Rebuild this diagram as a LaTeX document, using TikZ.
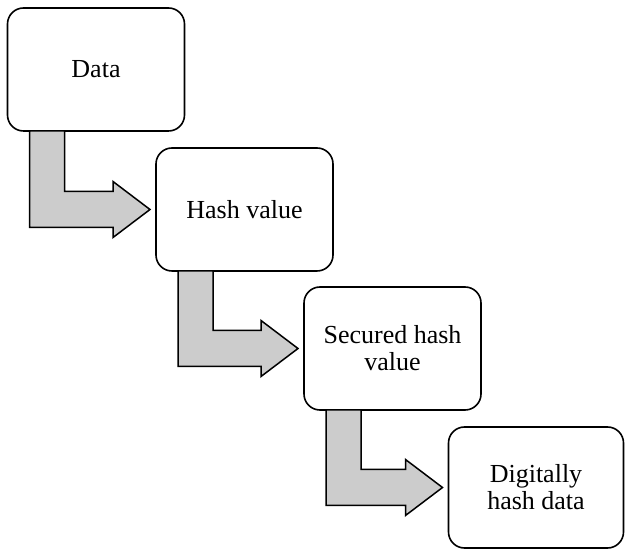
\documentclass[tikz,border=0pt]{standalone}
\usepackage{fontspec}
\setmainfont{Liberation Serif}
\usetikzlibrary{calc, positioning}
\tikzset{
  stepnode/.style   = {draw, line width=1.6pt, rounded corners=16pt, fill=white,
                       minimum width=177pt, minimum height=123pt, align=center,
                       inner sep=2pt, outer sep=0pt,
                       font=\fontsize{26}{27}\selectfont},
  blockarrow/.style = {draw, line width=1.5pt, fill=gray!40, line join=miter},
}

\begin{document}
\begin{tikzpicture}[x=1pt, y=1pt]
\useasboundingbox (0,0) rectangle (626,551);
\newcommand{\bendarrow}[2]{% from node, to node
  \draw[blockarrow] let \p1=(#1.south west), \p2=(#2.west) in
    (\x1+22pt,\y1) -- (\x1+22pt,\y2-18pt) -- (\x2-43pt,\y2-18pt)
    -- (\x2-43pt,\y2-28pt) -- (\x2-6pt,\y2) -- (\x2-43pt,\y2+28pt)
    -- (\x2-43pt,\y2+18pt) -- (\x1+57pt,\y2+18pt) -- (\x1+57pt,\y1) -- cycle;}
% boxes
\node[stepnode] (data)    at (96,481.5)    {Data};
\node[stepnode] (hash)    at (244.5,341.5) {Hash value};
\node[stepnode] (secured) at (392.5,202.5) {Secured hash\\value};
\node[stepnode, minimum width=175pt, minimum height=121pt]
                (digital) at (536,63.5)    {Digitally\\hash data};
% bent arrows
\bendarrow{data}{hash}
\bendarrow{hash}{secured}
\bendarrow{secured}{digital}
\end{tikzpicture}
\end{document}
